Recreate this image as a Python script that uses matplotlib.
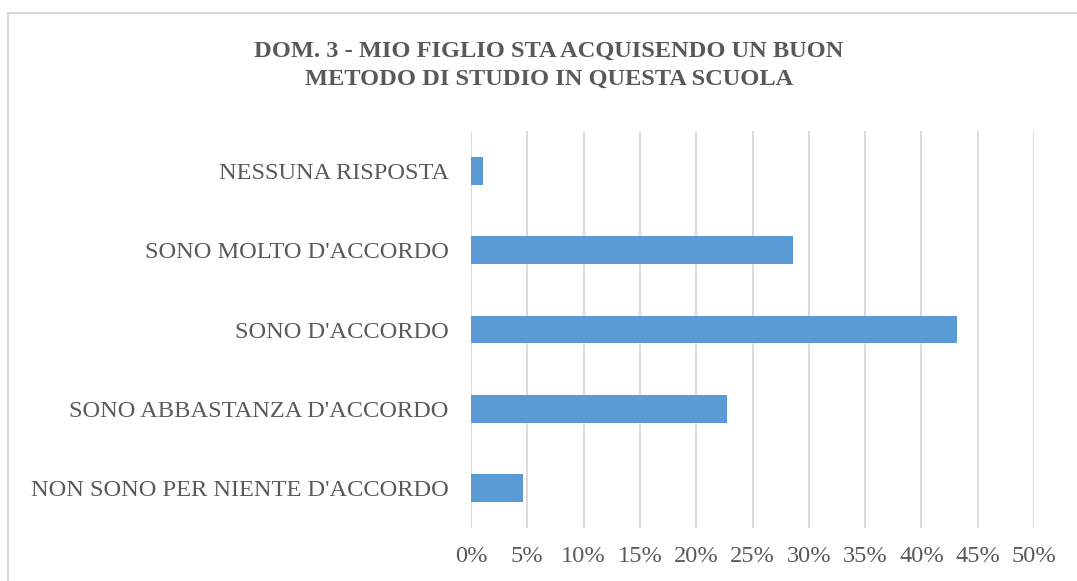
import matplotlib
matplotlib.use("Agg")
from matplotlib import pyplot as plt
from matplotlib.patches import Rectangle
from matplotlib.ticker import FuncFormatter

# Data
categories = ["NON SONO PER NIENTE D'ACCORDO", "SONO ABBASTANZA D'ACCORDO",
              "SONO D'ACCORDO", "SONO MOLTO D'ACCORDO", "NESSUNA RISPOSTA"]
values = [0.046, 0.227, 0.432, 0.286, 0.011]
title = "DOM. 3 - MIO FIGLIO STA ACQUISENDO UN BUON\nMETODO DI STUDIO IN QUESTA SCUOLA"

txt_col = "#595959"
grid_col = "#d9d9d9"
bar_col = "#5b9bd5"

plt.rcParams['font.family'] = ['Liberation Serif', 'DejaVu Serif']

fig = plt.figure(figsize=(10.77, 5.81), dpi=100)
fig.patch.set_facecolor("white")

# outer chart frame
fig.patches.append(Rectangle((8/1077, -0.05), 1.2, 1 - 13/581 + 0.05,
                             transform=fig.transFigure, fill=False,
                             edgecolor=grid_col, lw=1.5))

ax = fig.add_axes([471/1077, 1 - 528/581, 563/1077, 397/581])
ypos = range(len(categories))
ax.barh(ypos, values, height=0.35, color=bar_col, zorder=3)

ax.set_xlim(0, 0.5)
ax.set_ylim(-0.5, len(categories) - 0.5)
ax.set_xticks([i * 0.05 for i in range(11)])
ax.xaxis.set_major_formatter(FuncFormatter(lambda v, p: "%d%%" % round(v * 100)))
ax.set_yticks(list(ypos))
ax.set_yticklabels(categories)

ax.grid(axis="x", color=grid_col, lw=1.3, zorder=0)
for s in ax.spines.values():
    s.set_visible(False)
ax.tick_params(axis="both", length=0, colors=txt_col, labelsize=17.6)
ax.tick_params(axis="x", pad=13)
ax.tick_params(axis="y", pad=16)

fig.text(549/1077, 1 - 65/581, title, ha="center", va="center",
         fontsize=17.6, fontweight="bold", color=txt_col, linespacing=1.42)

fig.savefig("out.png", dpi=100, facecolor="white")
